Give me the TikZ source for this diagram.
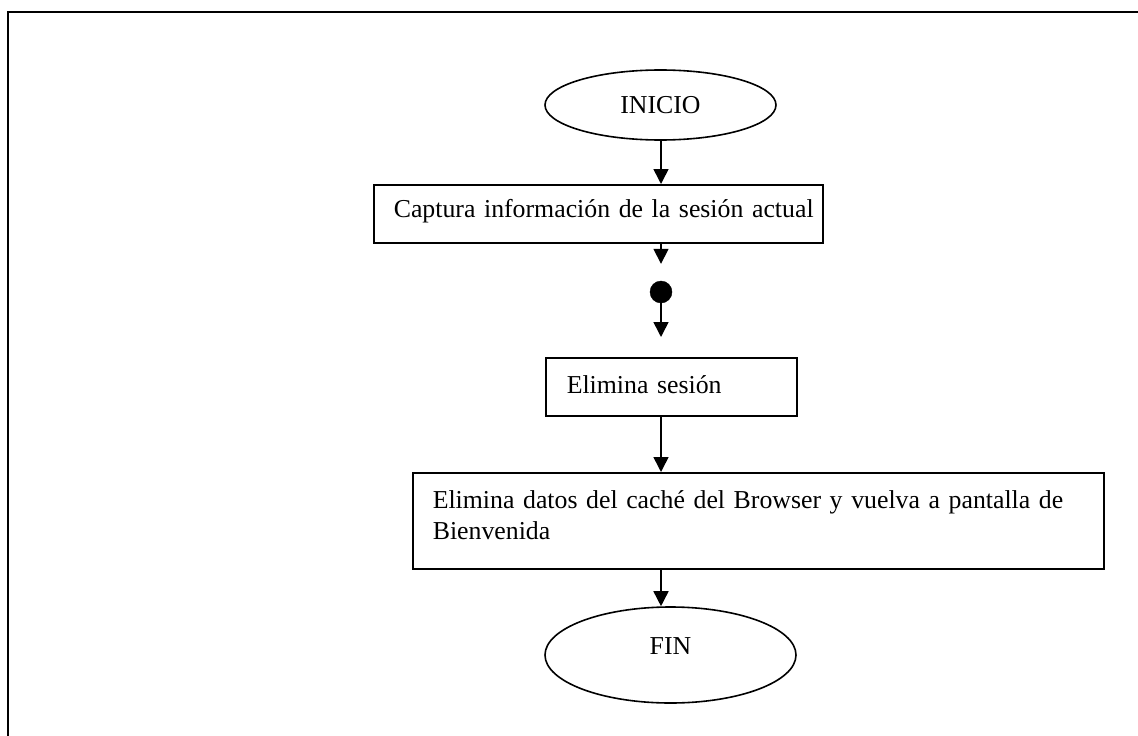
\documentclass[tikz,border=0pt]{standalone}
\usepackage{fontspec}
\setmainfont{Liberation Serif}
\usetikzlibrary{arrows.meta,shapes.geometric}
\tikzset{
  txtfont/.style={font=\fontsize{25.8pt}{30.4pt}\selectfont},
  procbox/.style={draw=black, line width=1.6pt, anchor=north west, align=left, inner ysep=5pt, txtfont},
  term/.style={draw=black, line width=1.6pt, ellipse, inner sep=0pt, txtfont},
  arr/.style={draw=black, line width=1.6pt, -{Triangle[length=15pt,width=15pt]}},
  junction/.style={circle, fill=black, draw=black, minimum size=22pt, inner sep=0pt},
}
\begin{document}
\begin{tikzpicture}[x=1pt,y=-1pt]
\path[use as bounding box] (0,0) rectangle (1138,736);
\clip (0,0) rectangle (1138,736);
\draw[line width=2.2pt] (8,12) rectangle (1160,760);

\node[term, minimum width=231pt, minimum height=70pt, text height=18pt, text depth=2pt] (ini) at (660.5,105) {INICIO};
\node[procbox, inner xsep=20pt, text width=409pt, text height=28pt, text depth=20pt] (b1) at (373,184) {\mbox{Captura información de la sesión actual}};
\node[junction] (dot) at (661,292) {};
\node[procbox, inner xsep=21pt, text width=209pt, text height=31pt, text depth=17pt] (b2) at (545,357) {Elimina sesión};
\node[procbox, inner xsep=20pt, text width=651pt, text height=31pt, text depth=55pt] (b3) at (412,472) {Elimina datos del caché del Browser y vuelva a pantalla de\\Bienvenida};
\node[term, minimum width=251pt, minimum height=96pt, text height=18pt, text depth=20pt] (fin) at (670.5,655) {FIN};

\draw[arr] (dot |- ini.south) -- (dot |- b1.north);
\draw[arr, shorten >=17pt] (dot |- b1.south) -- (dot.north);
\draw[arr, shorten >=20pt] (dot.south) -- (dot |- b2.north);
\draw[arr] (dot |- b2.south) -- (dot |- b3.north);
\draw[arr] (dot |- b3.south) -- (dot |- fin.north);
\end{tikzpicture}
\end{document}
